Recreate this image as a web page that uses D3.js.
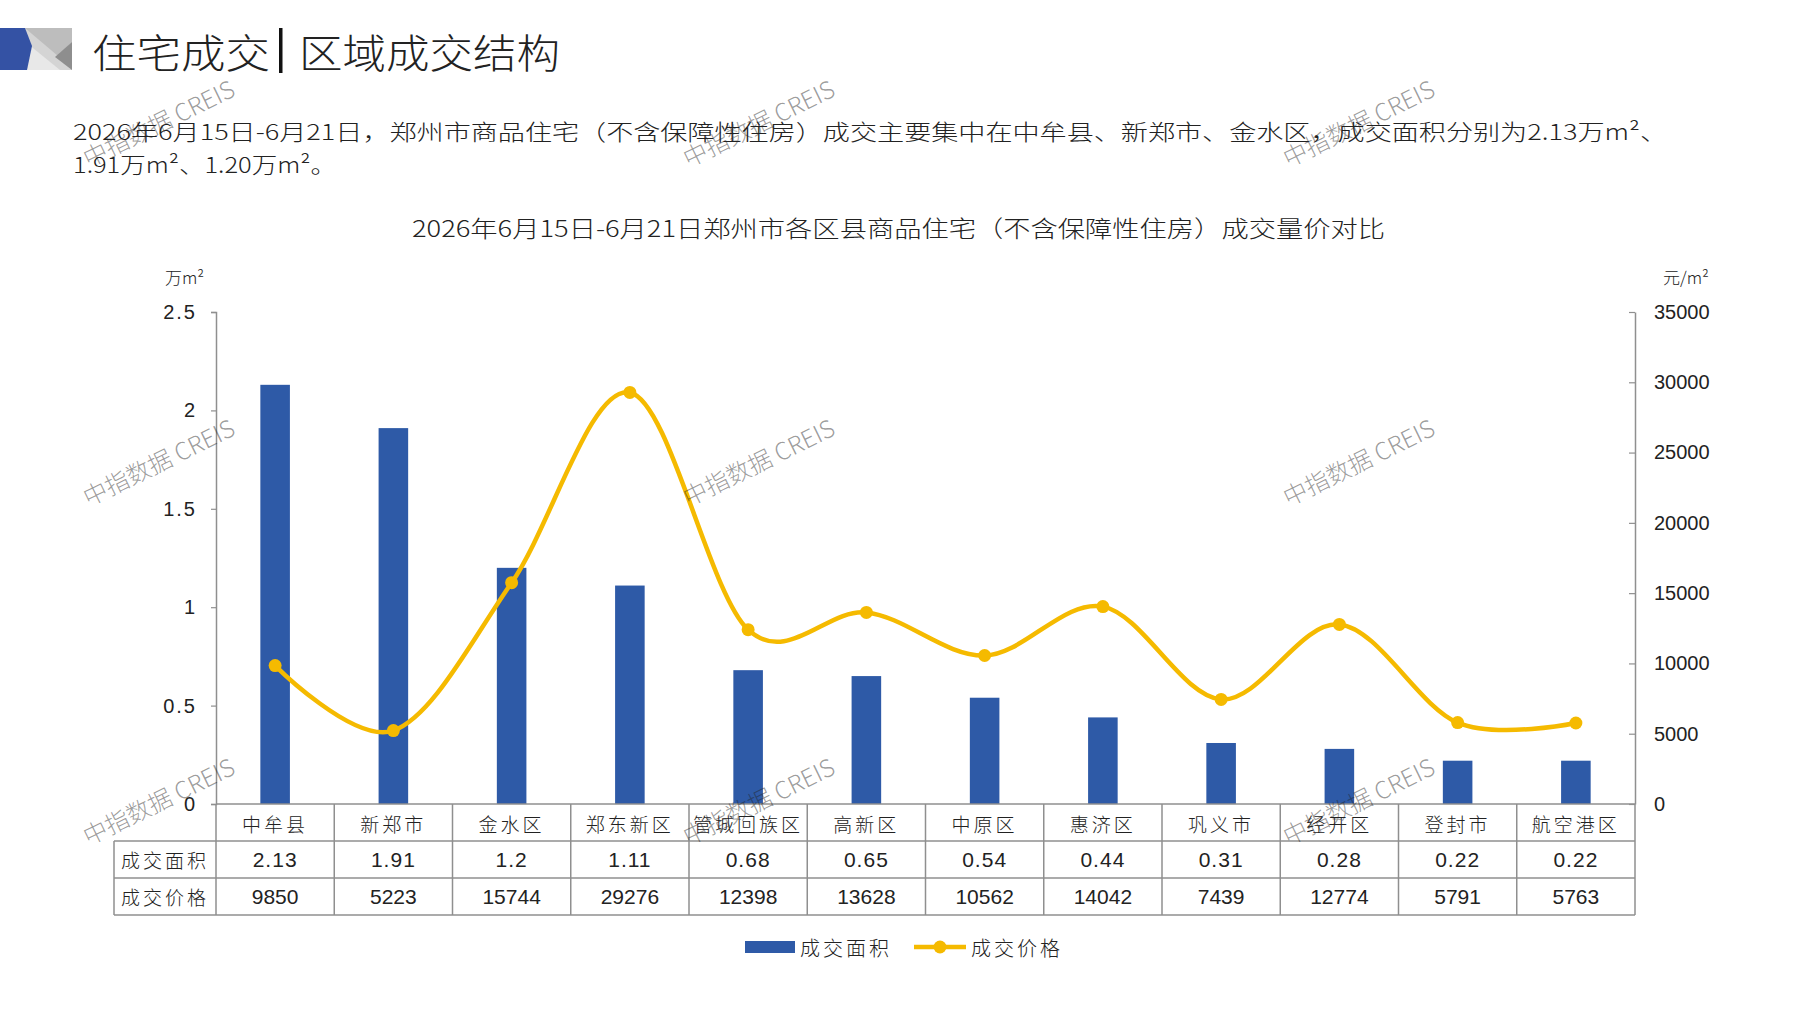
<!DOCTYPE html>
<html>
<head>
<meta charset="utf-8">
<script src="https://cdn.jsdelivr.net/npm/d3@7"></script>
<style>
  html, body { margin: 0; padding: 0; background: #fff; }
  svg { display: block; }
  text { font-family: "Noto Sans CJK SC", "Noto Sans", sans-serif; fill: #222; font-weight: 300; }
  .num { font-family: "Liberation Sans Narrow", "Liberation Sans", Arial, sans-serif; font-weight: 400; }
  .ax { font-family: "Liberation Sans", Arial, sans-serif; font-weight: 400; }
</style>
</head>
<body>
<svg id="chart" width="1797" height="1010"></svg>
<script>
// data
const categories = ["中牟县", "新郑市", "金水区", "郑东新区", "管城回族区", "高新区", "中原区", "惠济区", "巩义市", "经开区", "登封市", "航空港区"];
const area = [2.13, 1.91, 1.2, 1.11, 0.68, 0.65, 0.54, 0.44, 0.31, 0.28, 0.22, 0.22];
const price = [9850, 5223, 15744, 29276, 12398, 13628, 10562, 14042, 7439, 12774, 5791, 5763];
const areaTicks = [0, 0.5, 1, 1.5, 2, 2.5];
const priceTicks = [0, 5000, 10000, 15000, 20000, 25000, 30000, 35000];
const seriesNames = ["成交面积", "成交价格"];

const titleLeft = "住宅成交", titleRight = "区域成交结构";
const paragraph = ["2026年6月15日-6月21日，郑州市商品住宅（不含保障性住房）成交主要集中在中牟县、新郑市、金水区，成交面积分别为2.13万m²、",
                   "1.91万m²、1.20万m²。"];
const chartTitle = "2026年6月15日-6月21日郑州市各区县商品住宅（不含保障性住房）成交量价对比";
const watermark = "中指数据 CREIS";

const blue = "#2E5AA7", gold = "#F5BA00", grid = "#8f8f8f";

const svg = d3.select("#chart");

// header icon
const icon = svg.append("g");
icon.append("rect").attr("x", 0).attr("y", 28).attr("width", 72).attr("height", 42).attr("fill", "#d4d4d4");
icon.append("polygon").attr("points", "25,28 72,28 72,42 58,56").attr("fill", "#bdbdbd");
icon.append("polygon").attr("points", "28,44 60,70 27,70").attr("fill", "#e8e8e8");
icon.append("polygon").attr("points", "72,42 72,70 55,57").attr("fill", "#8e8e8e");
icon.append("polygon").attr("points", "0,28 25,28 32,46 27,70 0,70").attr("fill", "#3452a4");

svg.append("text").attr("x", 92).attr("y", 51).attr("dominant-baseline", "central")
  .attr("font-size", 40).attr("textLength", 178).attr("lengthAdjust", "spacingAndGlyphs").text(titleLeft);
svg.append("rect").attr("x", 279).attr("y", 28).attr("width", 3.5).attr("height", 45).attr("fill", "#111");
svg.append("text").attr("x", 299).attr("y", 51).attr("dominant-baseline", "central")
  .attr("font-size", 40).attr("textLength", 261).attr("lengthAdjust", "spacingAndGlyphs").text(titleRight);

svg.selectAll("text.para").data(paragraph).join("text").attr("class", "para")
  .attr("x", 73).attr("y", (d, i) => 130 + i * 33).attr("dominant-baseline", "central")
  .attr("font-size", 22).attr("fill", "#222")
  .attr("textLength", (d, i) => i === 0 ? 1594 : 263).attr("lengthAdjust", "spacingAndGlyphs")
  .text(d => d);

svg.append("text").attr("x", 412).attr("y", 227).attr("dominant-baseline", "central")
  .attr("font-size", 23).attr("textLength", 973).attr("lengthAdjust", "spacingAndGlyphs").text(chartTitle);

// scales
const x = d3.scaleBand().domain(categories).range([216, 1635]);
const yL = d3.scaleLinear().domain([0, 2.5]).range([804, 312]);
const yR = d3.scaleLinear().domain([0, 35000]).range([804, 312]);

svg.append("text").attr("x", 165).attr("y", 276).attr("dominant-baseline", "central").attr("font-size", 17).text("万m²");
svg.append("text").attr("x", 1663).attr("y", 276).attr("dominant-baseline", "central").attr("font-size", 17).text("元/m²");

// axes
const axL = svg.append("g").attr("transform", "translate(216,0)")
  .call(d3.axisLeft(yL).tickValues(areaTicks).tickSize(5).tickPadding(14).tickFormat(d => String(d)));
const axR = svg.append("g").attr("transform", "translate(1635,0)")
  .call(d3.axisRight(yR).tickValues(priceTicks).tickSizeInner(-6).tickSizeOuter(0).tickPadding(19).tickFormat(d => String(d)));
[axL, axR].forEach(g => {
  g.select(".domain").attr("stroke", grid).attr("stroke-width", 1.5);
  g.selectAll(".tick line").attr("stroke", grid).attr("stroke-width", 1.2);
  g.selectAll(".tick text").attr("class", "ax").attr("font-size", 20).attr("fill", "#111");
});
axL.selectAll(".tick text").attr("letter-spacing", 2);

// bars
const bw = x.bandwidth() * 0.25;
svg.append("g").selectAll("rect").data(area).join("rect")
  .attr("x", (d, i) => x(categories[i]) + x.bandwidth() / 2 - bw / 2)
  .attr("y", d => yL(d))
  .attr("width", bw)
  .attr("height", d => yL(0) - yL(d))
  .attr("fill", blue);

// price line
const cx = i => x(categories[i]) + x.bandwidth() / 2;
const line = d3.line().x((d, i) => cx(i)).y(d => yR(d)).curve(d3.curveCardinal.tension(0));
svg.append("path").datum(price).attr("d", line)
  .attr("fill", "none").attr("stroke", gold).attr("stroke-width", 4.5).attr("stroke-linecap", "round");
svg.append("g").selectAll("circle").data(price).join("circle")
  .attr("cx", (d, i) => cx(i)).attr("cy", d => yR(d)).attr("r", 6.5).attr("fill", gold);

// data table
const rows = [804, 841, 878, 915];
const tbl = svg.append("g").attr("stroke", grid).attr("stroke-width", 1.5);
tbl.append("line").attr("x1", 216).attr("x2", 1635).attr("y1", rows[0]).attr("y2", rows[0]);
rows.slice(1).forEach(y => tbl.append("line").attr("x1", 114).attr("x2", 1635).attr("y1", y).attr("y2", y));
tbl.append("line").attr("x1", 114).attr("x2", 114).attr("y1", rows[1]).attr("y2", rows[3]);
const bounds = categories.map(c => x(c)).concat([x.range()[1]]);
tbl.selectAll("line.v").data(bounds).join("line").attr("class", "v")
  .attr("x1", d => d).attr("x2", d => d).attr("y1", rows[0]).attr("y2", rows[3]);

const mid = i => (rows[i] + rows[i + 1]) / 2;
svg.append("g").selectAll("text").data(categories).join("text")
  .attr("x", (d, i) => cx(i)).attr("y", mid(0) + 1).attr("text-anchor", "middle").attr("dominant-baseline", "central")
  .attr("font-size", 19).attr("letter-spacing", 3).text(d => d);
svg.append("g").selectAll("text").data(seriesNames).join("text")
  .attr("x", 165).attr("y", (d, i) => mid(i + 1)).attr("text-anchor", "middle").attr("dominant-baseline", "central")
  .attr("font-size", 19).attr("letter-spacing", 3).text(d => d);
svg.append("g").selectAll("text").data(area).join("text").attr("class", "num")
  .attr("x", (d, i) => cx(i)).attr("y", mid(1)).attr("text-anchor", "middle").attr("dominant-baseline", "central")
  .attr("font-size", 21).attr("letter-spacing", 1).text(d => String(d));
svg.append("g").selectAll("text").data(price).join("text").attr("class", "num")
  .attr("x", (d, i) => cx(i)).attr("y", mid(2)).attr("text-anchor", "middle").attr("dominant-baseline", "central")
  .attr("font-size", 21).text(d => String(d));

// legend
const lg = svg.append("g");
lg.append("rect").attr("x", 745).attr("y", 941).attr("width", 50).attr("height", 12).attr("fill", blue);
lg.append("text").attr("x", 800).attr("y", 947).attr("dominant-baseline", "central").attr("font-size", 20)
  .attr("letter-spacing", 3).text(seriesNames[0]);
lg.append("line").attr("x1", 914).attr("x2", 966).attr("y1", 947).attr("y2", 947).attr("stroke", gold).attr("stroke-width", 4.5);
lg.append("circle").attr("cx", 940).attr("cy", 947).attr("r", 6.5).attr("fill", gold);
lg.append("text").attr("x", 971).attr("y", 947).attr("dominant-baseline", "central").attr("font-size", 20)
  .attr("letter-spacing", 3).text(seriesNames[1]);

// watermarks
const wmX = [158, 758, 1358], wmY = [122, 461, 800];
const wm = svg.append("g").attr("pointer-events", "none");
wmY.forEach(wy => wmX.forEach(wx => {
  wm.append("text").attr("transform", `translate(${wx},${wy}) rotate(-26)`)
    .attr("text-anchor", "middle").attr("dominant-baseline", "central")
    .attr("font-size", 24).attr("font-weight", 400).attr("fill", "#c4c4c4").attr("fill-opacity", 0.45)
    .text(watermark);
}));
</script>
</body>
</html>
